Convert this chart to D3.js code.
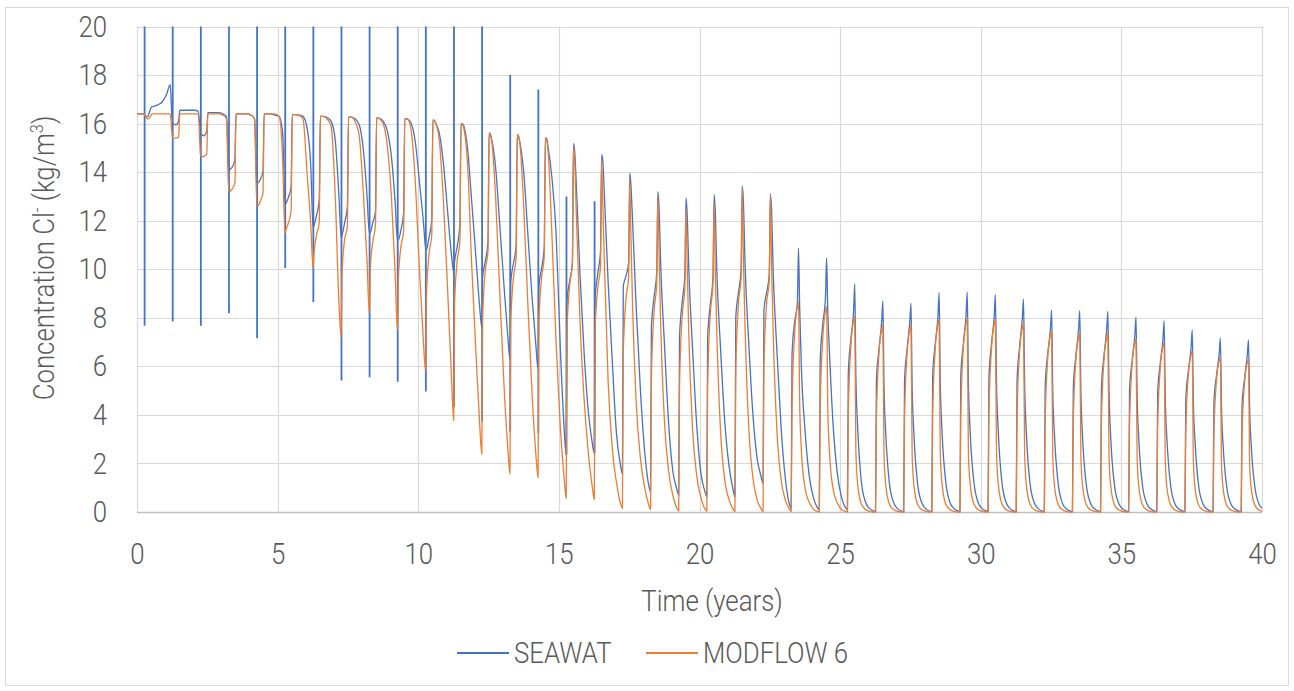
<!DOCTYPE html>
<html>
<head>
<meta charset="utf-8">
<script src="https://cdn.jsdelivr.net/npm/d3@7"></script>
<style>
body { margin: 0; background: #ffffff; }
text { font-family: Roboto, "Liberation Sans", sans-serif; font-weight: 300; fill: #595959; }
</style>
</head>
<body>
<svg></svg>
<script>
// yearly cycles, 0..39
var cycles = [0,1,2,3,4,5,6,7,8,9,10,11,12,13,14,15,16,17,18,19,20,21,22,23,24,25,26,27,28,29,30,31,32,33,34,35,36,37,38,39];
var xTicks = [0,5,10,15,20,25,30,35,40];
var yTicks = [0,2,4,6,8,10,12,14,16,18,20];
var seriesNames = ["SEAWAT", "MODFLOW 6"];

// offsets inside each year (years)
var phase = {low: 0.26, rise1: 0.29, rise2: 0.38, pre: 0.48, peak: 0.52, spike: 0.27};
var decayTimes = [0.56, 0.62, 0.75, 0.9, 1.05, 1.18];

// SEAWAT (kg/m3)
var seawatLow = [16.4,16.0,15.6,14.3,13.6,12.66,11.7,11.3,11.5,11.2,10.9,9.9,7.6,6.3,5.9,2.35,2.42,1.57,0.84,0.7,0.63,0.63,1.18,0.15,0.1,0.1,0.03,0.02,0.02,0.02,0.02,0.02,0.02,0.02,0.02,0.02,0.02,0.02,0.02,0.02];
var seawatRise1 = [16.3,16.0,15.55,14.1,13.55,12.7,11.8,11.4,11.5,11.2,10.8,10.3,9.7,9.5,9.3,8.7,8.8,9.3,7.6,7.2,7.2,8.0,8.3,6.5,6.2,5.7,5.4,5.4,5.6,5.6,5.5,5.4,5.2,5.1,5.1,5.0,4.9,4.6,4.5,4.4];
var seawatRise2 = [16.3,15.95,15.5,14.2,13.7,12.95,12.2,11.9,11.9,11.6,11.3,10.9,10.3,10.2,10.0,9.5,9.8,9.7,8.8,8.6,8.5,9.0,9.0,7.8,7.7,7.1,6.7,6.7,6.9,6.9,6.9,6.8,6.5,6.4,6.4,6.2,6.1,5.8,5.6,5.5];
var seawatPre = [16.6,16.1,15.7,14.5,14.03,13.41,12.87,12.59,12.4,12.3,12.04,11.84,11.15,11.0,10.94,10.25,10.73,10.25,9.91,9.77,9.7,9.98,9.77,8.6,8.88,8.3,7.9,7.9,8.1,8.15,8.1,8.0,7.6,7.55,7.55,7.3,7.15,6.8,6.55,6.5];
var seawatPeak = [16.69,16.55,16.45,16.4,16.4,16.37,16.3,16.27,16.23,16.19,16.14,16.0,15.62,15.55,15.41,15.18,14.72,13.97,13.21,12.94,13.07,13.42,13.11,10.87,10.46,9.4,8.7,8.6,9.04,9.06,8.95,8.77,8.33,8.29,8.26,8.03,7.88,7.5,7.16,7.09];
var seawatDecay = [
    [16.7,16.72,16.78,16.9,17.2,17.6],
    [16.55,16.55,16.55,16.55,16.55,16.5],
    [16.45,16.45,16.45,16.45,16.4,16.3],
    [16.4,16.4,16.4,16.4,16.35,16.2],
    [16.4,16.4,16.4,16.35,16.3,15.6],
    [16.37,16.37,16.35,16.3,15.8,14.2],
    [16.3,16.3,16.25,16.1,15.3,13.0],
    [16.27,16.27,16.2,15.95,14.9,13.0],
    [16.23,16.22,16.1,15.7,14.6,12.7],
    [16.19,16.18,16.0,15.2,13.5,12.0],
    [16.14,16.0,15.6,14.3,12.3,10.6],
    [16.0,15.9,15.0,12.8,10.5,8.5],
    [15.55,15.3,14.2,11.8,9.3,7.3],
    [15.5,15.2,14.0,11.4,8.8,6.9],
    [15.4,15.0,13.8,11.5,6.8,3.6],
    [14.9,13.5,9.8,6.5,4.1,2.9],
    [14.5,13.0,9.5,6.2,3.2,2.0],
    [13.5,12.0,8.4,5.0,2.5,1.2],
    [12.6,10.2,7.0,3.7,1.7,1.0],
    [12.3,10.0,6.8,3.6,1.6,0.9],
    [12.4,9.8,6.7,3.7,1.9,1.0],
    [12.8,10.2,7.0,4.0,2.2,1.5],
    [12.5,9.9,6.7,3.5,1.4,0.4],
    [8.5,6.0,3.4,1.5,0.6,0.2],
    [8.3,6.6,3.6,1.6,0.6,0.2],
    [5.6,3.6,1.3,0.42,0.14,0.05],
    [5.2,3.3,1.2,0.39,0.13,0.04],
    [5.2,3.3,1.2,0.39,0.13,0.04],
    [5.4,3.4,1.3,0.41,0.14,0.05],
    [5.4,3.4,1.3,0.41,0.14,0.05],
    [5.4,3.4,1.25,0.4,0.13,0.04],
    [5.3,3.3,1.2,0.39,0.13,0.04],
    [5.0,3.2,1.2,0.37,0.12,0.04],
    [5.0,3.1,1.15,0.37,0.12,0.04],
    [5.0,3.1,1.15,0.37,0.12,0.04],
    [4.8,3.0,1.1,0.36,0.12,0.04],
    [4.7,3.0,1.1,0.35,0.12,0.04],
    [4.5,2.9,1.05,0.34,0.11,0.04],
    [4.3,2.7,1.0,0.32,0.11,0.04],
    [4.3,2.7,1.0,0.32,0.11,0.04]
];
// SEAWAT vertical spikes at the start of each year
var spikeHigh = [20.5,20.5,20.5,20.5,20.5,20.5,20.5,20.5,20.5,20.5,20.5,20.5,20.5,18.0,17.4,13.0,12.8];
var spikeLow = [7.67,7.85,7.67,8.19,7.16,10.05,8.65,5.42,5.55,5.37,4.96,4.34,3.72,3.31,3.24,2.35,2.42];

// MODFLOW 6 (kg/m3)
var modflowLow = [16.4,15.45,14.7,13.2,12.6,11.49,10.02,7.2,8.19,7.48,5.79,3.77,2.38,1.57,1.43,0.56,0.52,0.15,0.1,0.05,0.04,0.03,0.03,0.03,0,0,0,0,0,0,0,0,0,0,0,0,0,0,0,0];
var modflowRise1 = [16.3,15.4,14.65,13.2,12.6,11.6,10.6,9.8,9.9,9.5,8.8,8.5,8.0,7.8,7.8,7.5,7.5,6.5,5.5,5.2,5.2,5.8,6.0,4.3,4.2,4.0,3.9,3.9,4.0,4.0,4.0,3.9,3.7,3.7,3.7,3.6,3.5,3.3,3.2,3.15];
var modflowRise2 = [16.2,15.4,14.65,13.3,12.8,11.9,11.4,11.2,11.1,10.9,10.6,10.3,9.9,9.6,9.6,9.3,9.2,8.7,8.2,8.0,8.1,8.5,8.5,7.3,7.1,6.8,6.5,6.5,6.7,6.75,6.7,6.6,6.3,6.25,6.25,6.05,5.9,5.65,5.4,5.35];
var modflowPre = [16.3,15.45,14.75,13.55,13.14,12.43,11.93,11.77,11.84,11.56,11.42,11.15,10.74,10.46,10.53,10.25,10.12,9.7,9.43,9.29,9.43,9.7,9.57,8.5,8.3,7.9,7.55,7.55,7.75,7.8,7.75,7.6,7.3,7.2,7.2,7.0,6.85,6.5,6.25,6.15];
var modflowPeak = [16.4,16.4,16.4,16.4,16.4,16.37,16.3,16.27,16.23,16.19,16.14,15.96,15.62,15.55,15.41,15.07,14.52,13.69,13.03,12.52,12.73,13.35,13.07,8.67,8.47,8.05,7.71,7.71,7.92,7.95,7.92,7.78,7.44,7.37,7.37,7.12,6.98,6.64,6.38,6.3];
var modflowDecay = [
    [16.4,16.4,16.4,16.4,16.4,16.4],
    [16.4,16.4,16.4,16.4,16.4,16.4],
    [16.4,16.4,16.4,16.4,16.35,16.2],
    [16.4,16.4,16.4,16.4,16.35,16.2],
    [16.4,16.4,16.4,16.4,16.3,14.5],
    [16.37,16.37,16.35,16.2,13.9,11.8],
    [16.3,16.3,16.2,15.9,13.0,8.6],
    [16.27,16.27,16.1,15.5,13.1,10.3],
    [16.23,16.2,16.0,15.1,12.9,9.8],
    [16.19,16.19,15.7,13.5,9.8,7.1],
    [16.14,16.05,15.3,12.7,9.0,5.6],
    [15.96,15.8,14.4,10.2,6.6,3.7],
    [15.6,15.2,13.0,9.0,5.2,2.7],
    [15.5,15.1,12.6,8.5,4.8,2.4],
    [15.35,14.8,11.5,7.0,3.5,1.5],
    [14.5,12.3,7.9,4.6,2.4,1.1],
    [12.8,10.2,5.4,2.6,1.2,0.4],
    [11.5,8.5,4.5,2.2,1.0,0.35],
    [10.8,7.7,3.8,1.7,0.7,0.2],
    [10.3,7.3,3.5,1.5,0.6,0.15],
    [10.0,7.2,3.3,1.3,0.5,0.15],
    [10.5,7.6,3.5,1.4,0.5,0.15],
    [10.3,7.4,3.4,1.35,0.5,0.15],
    [4.6,2.6,1.0,0.4,0.12,0.03],
    [4.4,2.5,0.95,0.38,0.1,0.03],
    [2.5,1.2,0.35,0.1,0.03,0],
    [2.4,1.15,0.33,0.1,0.03,0],
    [2.4,1.15,0.33,0.1,0.03,0],
    [2.5,1.2,0.34,0.1,0.03,0],
    [2.5,1.2,0.34,0.1,0.03,0],
    [2.5,1.2,0.34,0.1,0.03,0],
    [2.4,1.15,0.33,0.1,0.03,0],
    [2.3,1.1,0.32,0.09,0.03,0],
    [2.3,1.1,0.31,0.09,0.03,0],
    [2.3,1.1,0.31,0.09,0.03,0],
    [2.2,1.05,0.3,0.09,0.02,0],
    [2.2,1.0,0.3,0.09,0.02,0],
    [2.1,1.0,0.28,0.08,0.02,0],
    [2.0,0.95,0.27,0.08,0.02,0],
    [2.0,0.95,0.27,0.08,0.02,0]
];

var screen = {width: 1294, height: 691};
var plot = {left: 137, right: 1262, top: 26.5, bottom: 512};
var colors = {seawat: "#4472C4", modflow: "#ED7D31", grid: "#d9d9d9"};
var squeeze = 0.86;   // condensed look of the original font

var buildSeries = function(low, rise1, rise2, pre, peak, decay)
{
    var pts = [{t: 0, v: low[0]}];
    cycles.forEach(function(k)
    {
        pts.push({t: k + phase.low, v: low[k]});
        pts.push({t: k + phase.rise1, v: rise1[k]});
        pts.push({t: k + phase.rise2, v: rise2[k]});
        pts.push({t: k + phase.pre, v: pre[k]});
        pts.push({t: k + phase.peak, v: peak[k]});
        decayTimes.forEach(function(dt, i)
        {
            pts.push({t: k + dt, v: decay[k][i]});
        });
    });
    return pts;
}

var label = function(parent, x, y, anchor, rotate)
{
    return parent.append("text")
        .attr("transform", "translate(" + x + "," + y + ")" + (rotate ? " rotate(-90)" : "") + " scale(" + squeeze + ",1)")
        .attr("text-anchor", anchor)
        .style("font-size", "30px");
}

var setup = function()
{
    var svg = d3.select("svg")
        .attr("width", screen.width)
        .attr("height", screen.height);

    svg.append("rect")
        .attr("x", 5.5).attr("y", 7.5)
        .attr("width", 1283).attr("height", 678)
        .attr("fill", "white")
        .attr("stroke", colors.grid);

    var xScale = d3.scaleLinear()
                    .domain([0, 40])
                    .range([plot.left, plot.right]);

    var yScale = d3.scaleLinear()
                    .domain([0, 20])
                    .range([plot.bottom, plot.top]);

    // gridlines
    var grid = svg.append("g").attr("id", "grid");
    grid.selectAll(".hgrid")
        .data(yTicks)
        .enter()
        .append("line")
        .attr("x1", plot.left).attr("x2", plot.right)
        .attr("y1", function(d){return Math.round(yScale(d)) + 0.5})
        .attr("y2", function(d){return Math.round(yScale(d)) + 0.5})
        .attr("stroke", function(d){return d == 0 ? "#bfbfbf" : colors.grid})
        .attr("stroke-width", function(d){return d == 0 ? 1.5 : 1.2});
    grid.selectAll(".vgrid")
        .data(xTicks)
        .enter()
        .append("line")
        .attr("y1", plot.top).attr("y2", plot.bottom)
        .attr("x1", function(d){return Math.round(xScale(d)) + 0.5})
        .attr("x2", function(d){return Math.round(xScale(d)) + 0.5})
        .attr("stroke", colors.grid)
        .attr("stroke-width", 1.2);

    // axes (labels only)
    var xAxis = d3.axisBottom(xScale).tickValues(xTicks).tickSize(0).tickPadding(31);
    var yAxis = d3.axisLeft(yScale).tickValues(yTicks).tickSize(0).tickPadding(30 / squeeze);

    var gx = svg.append("g")
        .attr("id", "xAxis")
        .attr("transform", "translate(0," + plot.bottom + ")")
        .call(xAxis);
    var gy = svg.append("g")
        .attr("id", "yAxis")
        .attr("transform", "translate(" + plot.left + ",0)")
        .call(yAxis);
    [gx, gy].forEach(function(g)
    {
        g.select(".domain").remove();
        g.selectAll("text")
            .attr("fill", "#595959")
            .attr("transform", "scale(" + squeeze + ",1)")
            .style("font-size", "30px")
            .style("font-family", "Roboto, 'Liberation Sans', sans-serif")
            .style("font-weight", 300);
    });

    // axis titles
    label(svg, 712, 611, "middle", false).text("Time (years)");

    var yt = label(svg, 54, 258, "middle", true);
    yt.append("tspan").text("Concentration Cl");
    yt.append("tspan").attr("dy", -11).style("font-size", "19px").text("-");
    yt.append("tspan").attr("dy", 11).text(" (kg/m");
    yt.append("tspan").attr("dy", -11).style("font-size", "19px").text("3");
    yt.append("tspan").attr("dy", 11).text(")");

    svg.append("clipPath")
        .attr("id", "plotClip")
        .append("rect")
        .attr("x", plot.left).attr("y", plot.top)
        .attr("width", plot.right - plot.left)
        .attr("height", plot.bottom - plot.top + 1);

    draw(svg, xScale, yScale);
}

var draw = function(svg, xScale, yScale)
{
    var g = svg.append("g").attr("clip-path", "url(#plotClip)");

    var lineGenerator = d3.line()
        .x(function(d){return xScale(d.t)})
        .y(function(d){return yScale(d.v)})
        .curve(d3.curveMonotoneX);

    var seawat = buildSeries(seawatLow, seawatRise1, seawatRise2, seawatPre, seawatPeak, seawatDecay);
    var modflow = buildSeries(modflowLow, modflowRise1, modflowRise2, modflowPre, modflowPeak, modflowDecay);

    g.append("path")
        .datum(seawat)
        .attr("fill", "none")
        .attr("stroke", colors.seawat)
        .attr("stroke-width", 1.3)
        .attr("d", lineGenerator);

    g.selectAll(".spike")
        .data(spikeHigh)
        .enter()
        .append("line")
        .attr("x1", function(d, i){return xScale(cycles[i] + phase.spike)})
        .attr("x2", function(d, i){return xScale(cycles[i] + phase.spike)})
        .attr("y1", function(d){return yScale(d)})
        .attr("y2", function(d, i){return yScale(spikeLow[i])})
        .attr("stroke", colors.seawat)
        .attr("stroke-width", 1.8);

    g.append("path")
        .datum(modflow)
        .attr("fill", "none")
        .attr("stroke", colors.modflow)
        .attr("stroke-width", 1.3)
        .attr("d", lineGenerator);

    // legend
    var legend = svg.append("g").attr("id", "legend");
    var items = [
        {name: seriesNames[0], color: colors.seawat, x: 457},
        {name: seriesNames[1], color: colors.modflow, x: 646}
    ];
    items.forEach(function(it)
    {
        legend.append("line")
            .attr("x1", it.x).attr("x2", it.x + 52)
            .attr("y1", 653).attr("y2", 653)
            .attr("stroke", it.color)
            .attr("stroke-width", 1.8);
        label(legend, it.x + 57, 663, "start", false).text(it.name);
    });
}

setup();
</script>
</body>
</html>
